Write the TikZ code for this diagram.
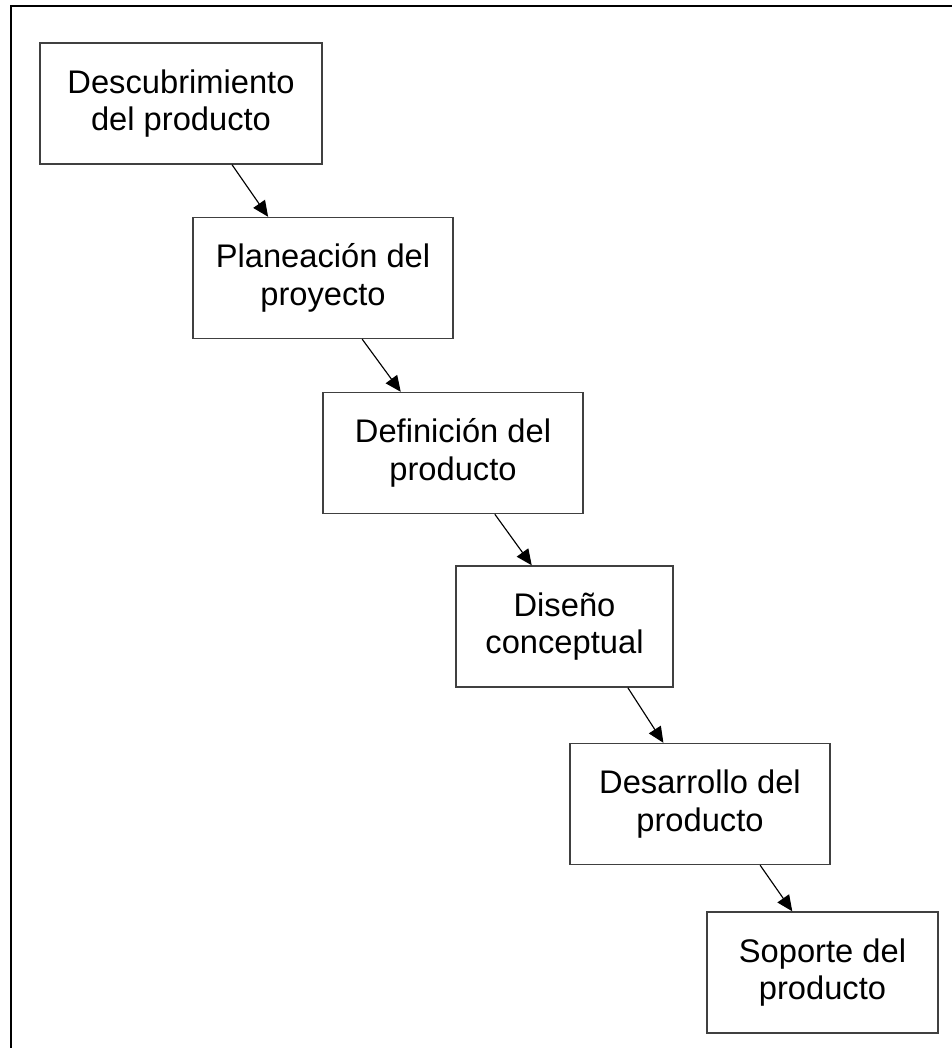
\documentclass[tikz,border=0pt]{standalone}
\usepackage{fontspec}
\setmainfont{Liberation Sans}
\usetikzlibrary{calc}
\usetikzlibrary{arrows.meta}

\tikzset{
  fase/.style={draw=black!75, line width=0.8pt, rectangle, align=center,
    minimum height=2.42cm, inner sep=0pt,
    font=\fontsize{18.6}{21.5}\selectfont},
  flecha/.style={-{Triangle[length=9pt,width=8pt]}, line width=0.65pt}
}

\begin{document}
\begin{tikzpicture}[x=0.02cm,y=-0.02cm]

\useasboundingbox (0,0) rectangle (952,1048);

% marco
\draw[line width=1.1pt] (11,1048) -- (11,6) -- (952,6);

\node[fase, minimum width=5.64cm] (descubrimiento) at (181,103.5) {Descubrimiento\\del producto};
\node[fase, minimum width=5.2cm] (planeacion) at (323,278) {Planeación del\\proyecto};
\node[fase, minimum width=5.2cm] (definicion) at (453,453) {Definición del\\producto};
\node[fase, minimum width=4.34cm] (diseno) at (564.5,626.5) {Diseño\\conceptual};
\node[fase, minimum width=5.2cm] (desarrollo) at (700,804) {Desarrollo del\\producto};
\node[fase, minimum width=4.62cm] (soporte) at (822.5,972.5) {Soporte del\\producto};

\draw[flecha] ($(descubrimiento.south west)!0.68!(descubrimiento.south east)$) -- ($(planeacion.north west)!0.29!(planeacion.north east)$);
\draw[flecha] ($(planeacion.south west)!0.65!(planeacion.south east)$) -- ($(definicion.north west)!0.30!(definicion.north east)$);
\draw[flecha] ($(definicion.south west)!0.66!(definicion.south east)$) -- ($(diseno.north west)!0.35!(diseno.north east)$);
\draw[flecha] ($(diseno.south west)!0.79!(diseno.south east)$) -- ($(desarrollo.north west)!0.36!(desarrollo.north east)$);
\draw[flecha] ($(desarrollo.south west)!0.73!(desarrollo.south east)$) -- ($(soporte.north west)!0.37!(soporte.north east)$);

\end{tikzpicture}
\end{document}
